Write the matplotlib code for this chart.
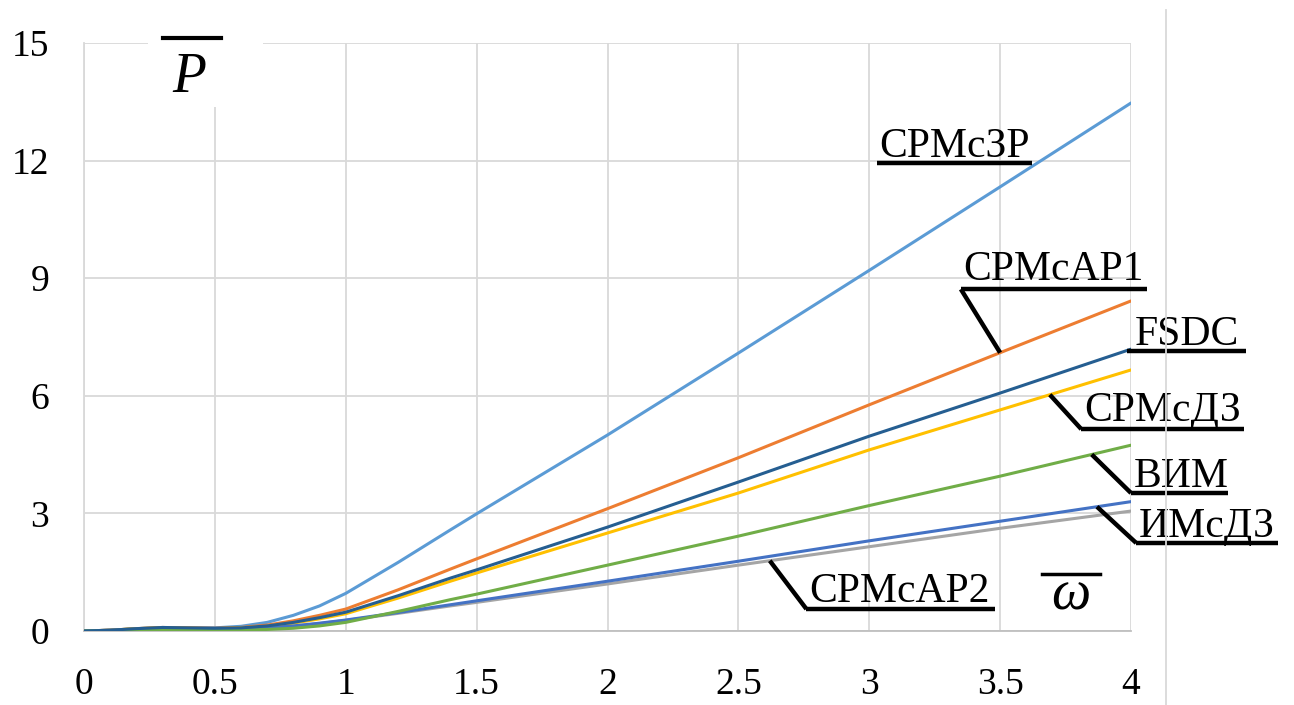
import numpy as np
import matplotlib
matplotlib.use("Agg")
import matplotlib.pyplot as plt
from matplotlib.patches import Rectangle
from matplotlib.lines import Line2D

# Relative speed (omega) and relative power (P) for each drive type
omega = [0, 0.1, 0.2, 0.3, 0.4, 0.5, 0.6, 0.7, 0.8, 0.9, 1.0, 1.2, 1.4, 1.5, 2.0, 2.5, 3.0, 3.5, 4.0]

p_srm_zr  = [0, 0.02, 0.06, 0.09, 0.08, 0.08, 0.12, 0.22, 0.40, 0.64, 0.96, 1.75, 2.58, 2.99, 5.00, 7.09, 9.20, 11.33, 13.47]
p_srm_ar1 = [0, 0.02, 0.06, 0.09, 0.08, 0.07, 0.09, 0.15, 0.26, 0.40, 0.56, 1.05, 1.58, 1.84, 3.12, 4.42, 5.77, 7.10, 8.42]
p_fsdc    = [0, 0.02, 0.06, 0.09, 0.08, 0.07, 0.08, 0.13, 0.22, 0.34, 0.48, 0.90, 1.35, 1.56, 2.65, 3.80, 4.97, 6.07, 7.19]
p_srm_dz  = [0, 0.02, 0.06, 0.08, 0.07, 0.06, 0.08, 0.12, 0.20, 0.31, 0.44, 0.84, 1.27, 1.48, 2.50, 3.52, 4.62, 5.64, 6.66]
p_vim     = [0, 0.01, 0.02, 0.03, 0.02, 0.02, 0.02, 0.04, 0.07, 0.13, 0.22, 0.50, 0.80, 0.94, 1.68, 2.42, 3.20, 3.95, 4.74]
p_im_dz   = [0, 0.02, 0.05, 0.07, 0.06, 0.05, 0.05, 0.08, 0.13, 0.20, 0.28, 0.47, 0.67, 0.77, 1.27, 1.78, 2.30, 2.80, 3.30]
p_srm_ar2 = [0, 0.02, 0.05, 0.07, 0.06, 0.05, 0.05, 0.08, 0.12, 0.19, 0.27, 0.45, 0.64, 0.73, 1.20, 1.68, 2.15, 2.62, 3.06]

x_ticks = [0, 0.5, 1, 1.5, 2, 2.5, 3, 3.5, 4]
x_tick_labels = ["0", "0.5", "1", "1.5", "2", "2.5", "3", "3.5", "4"]
y_ticks = [0, 3, 6, 9, 12, 15]
y_tick_labels = ["0", "3", "6", "9", "12", "15"]

series = [
    ("СРМсЗР",  p_srm_zr,  "#5B9BD5"),
    ("СРМсАР1", p_srm_ar1, "#ED7D31"),
    ("СРМсАР2", p_srm_ar2, "#A5A5A5"),
    ("СРМсДЗ",  p_srm_dz,  "#FFC000"),
    ("ИМсДЗ",   p_im_dz,   "#4472C4"),
    ("ВИМ",     p_vim,     "#70AD47"),
    ("FSDC",    p_fsdc,    "#255E91"),
]

SERIF = "Liberation Serif"

fig = plt.figure(figsize=(12.94, 7.05), dpi=100)
ax = fig.add_axes([84 / 1294, 74 / 705, 1047 / 1294, 588 / 705])

for name, vals, col in series:
    ax.plot(omega, vals, color=col, lw=2.2, solid_capstyle="round", zorder=3)

ax.set_xlim(0, 4)
ax.set_ylim(0, 15)
ax.set_xticks(x_ticks)
ax.set_xticklabels(x_tick_labels, fontfamily=SERIF, fontsize=27)
ax.set_yticks(y_ticks)
ax.set_yticklabels(y_tick_labels, fontfamily=SERIF, fontsize=27)
ax.tick_params(axis="both", length=0)
ax.tick_params(axis="x", pad=26)
ax.tick_params(axis="y", pad=25)
ax.grid(True, color="#D9D9D9", lw=1.3, zorder=0)
ax.set_axisbelow(True)
for side in ("top", "right"):
    ax.spines[side].set_visible(False)
ax.spines["left"].set_color("#D9D9D9")
ax.spines["left"].set_linewidth(1.3)
ax.spines["bottom"].set_color("#BFBFBF")
ax.spines["bottom"].set_linewidth(1.3)

# Axis symbol for power: overlined italic P on a white patch over the grid
ax.add_patch(Rectangle((0.244, 13.37), 0.44, 1.9, facecolor="white",
                       edgecolor="none", zorder=1, clip_on=False))
ax.add_line(Line2D([0.30, 0.523], [15.13, 15.13], color="black", lw=3,
                   clip_on=False, zorder=5))
ax.text(0.336, 13.75, "P", fontfamily=SERIF, fontstyle="italic", fontsize=40,
        va="baseline", ha="left", zorder=5)

# Axis symbol for speed: overlined italic omega
ax.add_line(Line2D([3.66, 3.88], [1.45, 1.45], color="black", lw=2.5, zorder=5))
ax.text(3.77, 0.54, "ω", fontfamily=SERIF, fontstyle="italic", fontsize=40,
        va="baseline", ha="center", zorder=5)

# Curve labels: underlined text, with a leader line to the curve where needed
# (name, values, leader anchor on curve x or None, underline y, underline x0, x1, text x, text baseline)
labels = [
    ("СРМсЗР",  p_srm_zr,  None, 11.94, 3.03, 3.62, 3.04, 12.09),
    ("СРМсАР1", p_srm_ar1, 3.50, 8.72, 3.35, 4.06, 3.36, 8.95),
    ("FSDC",    p_fsdc,    None, 7.14, 3.985, 4.44, 4.015, 7.30),
    ("СРМсДЗ",  p_srm_dz,  3.69, 5.15, 3.81, 4.43, 3.82, 5.36),
    ("ВИМ",     p_vim,     3.85, 3.52, 4.00, 4.37, 4.01, 3.67),
    ("ИМсДЗ",   p_im_dz,   3.87, 2.245, 4.02, 4.56, 4.03, 2.40),
    ("СРМсАР2", p_srm_ar2, 2.62, 0.56, 2.76, 3.48, 2.77, 0.74),
]

for name, vals, anchor_x, uy, ux0, ux1, tx, ty in labels:
    ax.add_line(Line2D([ux0, ux1], [uy, uy], color="black", lw=3.2,
                       solid_capstyle="butt", clip_on=False, zorder=6))
    if anchor_x is not None:
        ay = float(np.interp(anchor_x, omega, vals))
        ax.add_line(Line2D([anchor_x, ux0], [ay, uy], color="black", lw=3.2,
                           solid_capstyle="butt", clip_on=False, zorder=6))
    ax.text(tx, ty, name, fontfamily=SERIF, fontsize=30, va="baseline",
            ha="left", zorder=7, clip_on=False)

# Thin frame line to the right of the plot
fig.add_artist(Line2D([1166 / 1294, 1166 / 1294], [0, 1 - 10 / 705],
                      transform=fig.transFigure, color="#D9D9D9", lw=1.3))

fig.savefig("out.png", dpi=100, facecolor="white")
